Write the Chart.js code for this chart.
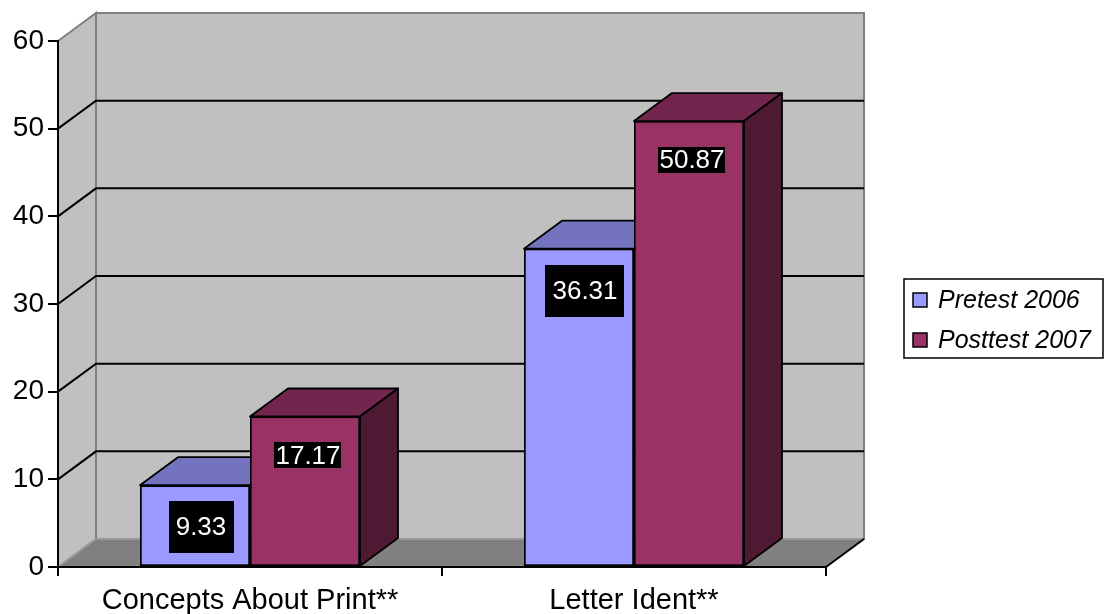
<!DOCTYPE html>
<html>
<head>
<meta charset="utf-8">
<title>Pretest / Posttest</title>
<script src="https://cdn.jsdelivr.net/npm/chart.js@4/dist/chart.umd.min.js"></script>
<style>
  html, body { margin: 0; padding: 0; background: #fff; }
  #wrap { width: 1107px; height: 614px; }
</style>
</head>
<body>
<div id="wrap"><canvas id="scoresChart" width="1107" height="614"></canvas></div>
<script>
// --- data
var categories = ['Concepts About Print**', 'Letter Ident**'];
var seriesNames = ['Pretest 2006', 'Posttest 2007'];
var pretest2006 = [9.33, 36.31];
var posttest2007 = [17.17, 50.87];
var yMin = 0, yMax = 60, yStep = 10;

// --- look
var FONT = '"Liberation Sans", Arial, sans-serif';
var DX = 38, DY = -28;               // depth of the 3D box
var faceColors = ['#9999ff', '#993366'];
var topColors = ['#7373bf', '#73264d'];
var sideColors = ['#4d4d80', '#4d1933'];
// label box padding and offset from the top of the bar, per series
var labelStyle = [
    { padX: 7, padY: 16, offX: 6, offY: 42 },
    { padX: 1, padY: 3, offX: 3, offY: 39 }
];

function poly(ctx, pts, fill, stroke, lw) {
    ctx.beginPath();
    ctx.moveTo(pts[0][0], pts[0][1]);
    for (var i = 1; i < pts.length; i++) ctx.lineTo(pts[i][0], pts[i][1]);
    ctx.closePath();
    if (fill) { ctx.fillStyle = fill; ctx.fill(); }
    if (stroke) { ctx.strokeStyle = stroke; ctx.lineWidth = lw || 1; ctx.stroke(); }
}

function line(ctx, x1, y1, x2, y2, color, lw) {
    ctx.beginPath();
    ctx.moveTo(x1, y1);
    ctx.lineTo(x2, y2);
    ctx.strokeStyle = color;
    ctx.lineWidth = lw;
    ctx.stroke();
}

// walls, floor and back gridlines
var wallsPlugin = {
    id: 'walls3d',
    beforeDraw: function (chart) {
        var ctx = chart.ctx, a = chart.chartArea, ys = chart.scales.y;
        var L = a.left, R = a.right, T = ys.getPixelForValue(yMax), B = ys.getPixelForValue(yMin);
        ctx.save();
        // back wall
        poly(ctx, [[L + DX, T + DY], [R + DX, T + DY], [R + DX, B + DY], [L + DX, B + DY]], '#c0c0c0', '#808080', 2);
        // side wall
        poly(ctx, [[L, T], [L + DX, T + DY], [L + DX, B + DY], [L, B]], '#c0c0c0', '#808080', 2);
        // floor
        poly(ctx, [[L, B], [L + DX, B + DY], [R + DX, B + DY], [R, B]], '#808080', null);
        line(ctx, L, B, L + DX, B + DY, '#a0a0a0', 1.5);
        line(ctx, L + DX, B + DY, R + DX, B + DY, '#a0a0a0', 1.5);
        line(ctx, R, B, R + DX, B + DY, '#000', 2);
        // gridlines
        for (var v = yMin + yStep; v < yMax; v += yStep) {
            var y = ys.getPixelForValue(v);
            ctx.beginPath();
            ctx.moveTo(L, y);
            ctx.lineTo(L + DX, y + DY);
            ctx.lineTo(R + DX, y + DY);
            ctx.strokeStyle = '#000';
            ctx.lineWidth = 2;
            ctx.stroke();
        }
        ctx.restore();
    },
    // redraw the boxes left to right: front face, then top and side,
    // so each taller box covers the side of the one before it
    afterDatasetsDraw: function (chart) {
        var ctx = chart.ctx;
        ctx.save();
        ctx.lineJoin = 'round';
        chart.data.datasets.forEach(function (ds, i) {
            chart.getDatasetMeta(i).data.forEach(function (bar) {
                bar.draw(ctx);
                var l = bar.x - bar.width / 2, r = bar.x + bar.width / 2, t = bar.y, b = bar.base;
                poly(ctx, [[l, t], [l + DX, t + DY], [r + DX, t + DY], [r, t]], topColors[i], '#000', 1.8);
                poly(ctx, [[r, t], [r + DX, t + DY], [r + DX, b + DY], [r, b]], sideColors[i], '#000', 1.8);
            });
        });
        ctx.restore();
    },
    afterDraw: function (chart) {
        var ctx = chart.ctx;
        ctx.save();
        // value labels
        ctx.font = '26px ' + FONT;
        ctx.textAlign = 'center';
        ctx.textBaseline = 'middle';
        chart.data.datasets.forEach(function (ds, i) {
            var st = labelStyle[i];
            chart.getDatasetMeta(i).data.forEach(function (bar, j) {
                var txt = ds.data[j].toFixed(2);
                var w = ctx.measureText(txt).width + st.padX * 2;
                var h = 26 + st.padY * 2 - 6;
                var cx = bar.x + st.offX, cy = bar.y + st.offY;
                ctx.fillStyle = '#000';
                ctx.fillRect(Math.round(cx - w / 2), Math.round(cy - h / 2), Math.round(w), Math.round(h));
                ctx.fillStyle = '#fff';
                ctx.fillText(txt, cx, cy + 1);
            });
        });
        // legend
        var lx = 904, ly = 279, lw = 199, lh = 79;
        ctx.fillStyle = '#fff';
        ctx.fillRect(lx, ly, lw, lh);
        ctx.strokeStyle = '#000';
        ctx.lineWidth = 1.5;
        ctx.strokeRect(lx, ly, lw, lh);
        ctx.font = 'italic 25px ' + FONT;
        ctx.textAlign = 'left';
        seriesNames.forEach(function (name, i) {
            var y = ly + 21 + i * 40;
            ctx.fillStyle = faceColors[i];
            ctx.fillRect(lx + 9, y - 7, 14, 14);
            ctx.strokeStyle = '#000';
            ctx.lineWidth = 1.5;
            ctx.strokeRect(lx + 9, y - 7, 14, 14);
            ctx.fillStyle = '#000';
            ctx.fillText(name, lx + 34, y + 1);
        });
        ctx.restore();
    }
};

var ctx = document.getElementById('scoresChart');
new Chart(ctx, {
    type: 'bar',
    data: {
        labels: categories,
        datasets: [{
            label: seriesNames[0],
            data: pretest2006,
            backgroundColor: faceColors[0],
            borderColor: '#000',
            borderWidth: 1.8,
            borderSkipped: false
        },
        {
            label: seriesNames[1],
            data: posttest2007,
            backgroundColor: faceColors[1],
            borderColor: '#000',
            borderWidth: 1.8,
            borderSkipped: false
        }]
    },
    options: {
        responsive: false,
        devicePixelRatio: 1,
        animation: false,
        events: [],
        categoryPercentage: 0.573,
        barPercentage: 1,
        layout: { padding: { top: 41, right: 281, left: 0, bottom: 0 } },
        plugins: {
            legend: { display: false },
            tooltip: { enabled: false }
        },
        scales: {
            x: {
                afterFit: function (s) { s.height = 47; },
                grid: { drawOnChartArea: false, color: '#000', lineWidth: 2, tickLength: 9, offset: true },
                border: { display: true, color: '#000', width: 2 },
                ticks: { color: '#000', font: { family: FONT, size: 29 }, padding: 8, maxRotation: 0 }
            },
            y: {
                min: yMin,
                max: yMax,
                afterFit: function (s) { s.width = 58; },
                grid: { drawOnChartArea: false, color: '#000', lineWidth: 2, tickLength: 10 },
                border: { display: true, color: '#000', width: 2 },
                ticks: { stepSize: yStep, color: '#000', font: { family: FONT, size: 28 }, padding: 4 }
            }
        }
    },
    plugins: [wallsPlugin]
});
</script>
</body>
</html>
